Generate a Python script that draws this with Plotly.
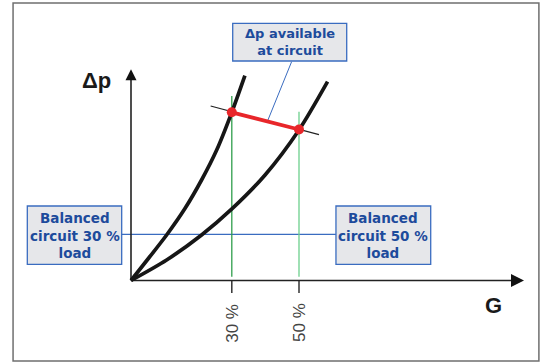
import plotly.graph_objects as go

# ---- data ----
# G in % of design flow, dp in arbitrary pressure units
G_STEEP = [0, 5.4, 10.6, 16.1, 21.0, 25.5, 30.0, 33.9]
DP_STEEP = [0, 11.5, 22.75, 36.1, 50.25, 65.25, 84.1, 102.4]
G_SHALLOW = [0, 10.6, 21.0, 30.1, 39.9, 50.0, 58.5]
DP_SHALLOW = [0, 10.25, 22.75, 35.9, 52.75, 75.25, 99.4]
LOAD_PCT = [30, 50]
DP_AT_LOAD = [84.1, 75.5]
TICK_LABELS = ["30 %", "50 %"]
GREEN_TOP = [92.25, 84.4]
LINE_G = [23.7, 55.95]
LINE_DP = [87.25, 72.9]

# ---- layout constants (pixel mapping) ----
W, H = 544, 363
X0PX, Y0PX = 131.0, 280.5
KX, KY = 3.36, 2.0
XR = [-X0PX / KX, (W - X0PX) / KX]
YR = [(Y0PX - H) / KY, Y0PX / KY]

FONT = "Liberation Sans, Arial, Helvetica, sans-serif"
BOXFONT = "DejaVu Sans, Liberation Sans, Arial, sans-serif"
BLUE_TXT = "#1d4b9c"
BLUE_LN = "#3a6cc0"
BOX_BG = "#e6e7ea"

fig = go.Figure()

# connector between the two lower boxes
fig.add_trace(go.Scatter(x=[-2.77, 61.0], y=[23.1, 23.1], mode="lines",
                         line=dict(color=BLUE_LN, width=1.2), hoverinfo="skip"))
# green load lines
for g, top, col in zip(LOAD_PCT, GREEN_TOP, ["#2f9e4c", "#6ccf8d"]):
    fig.add_trace(go.Scatter(x=[g, g], y=[1.9, top], mode="lines",
                             line=dict(color=col, width=1.3), hoverinfo="skip"))
# tick marks
for g in LOAD_PCT:
    fig.add_trace(go.Scatter(x=[g, g], y=[0, -6.25], mode="lines",
                             line=dict(color="#333333", width=1.5), hoverinfo="skip"))
# axes
fig.add_trace(go.Scatter(x=[0, 0], y=[0, 102.5], mode="lines",
                         line=dict(color="#222222", width=1.6), hoverinfo="skip"))
fig.add_trace(go.Scatter(x=[0, 115.0], y=[0, 0], mode="lines",
                         line=dict(color="#222222", width=1.6), hoverinfo="skip"))
fig.add_trace(go.Scatter(x=[0], y=[105.6], mode="markers",
                         marker=dict(symbol="arrow-up", size=11, color="#111111",
                                     line=dict(width=0)), hoverinfo="skip"))
fig.add_trace(go.Scatter(x=[116.96], y=[0], mode="markers",
                         marker=dict(symbol="arrow-right", size=13, color="#111111",
                                     line=dict(width=0)), hoverinfo="skip"))
# curves
for gx, dy in [(G_STEEP, DP_STEEP), (G_SHALLOW, DP_SHALLOW)]:
    fig.add_trace(go.Scatter(x=gx, y=dy, mode="lines",
                             line=dict(color="#161616", width=3.7, shape="spline", smoothing=0.8),
                             hoverinfo="skip"))
# thin operating line
fig.add_trace(go.Scatter(x=LINE_G, y=LINE_DP, mode="lines",
                         line=dict(color="#222222", width=1.2), hoverinfo="skip"))
# annotation connector
fig.add_trace(go.Scatter(x=[47.8, 40.7], y=[109.4, 80.0], mode="lines",
                         line=dict(color=BLUE_LN, width=1.0), hoverinfo="skip"))
# red available dp
fig.add_trace(go.Scatter(x=LOAD_PCT, y=DP_AT_LOAD, mode="lines+markers",
                         line=dict(color="#e8262a", width=3.8),
                         marker=dict(size=10, color="#e8262a"), hoverinfo="skip"))

shapes = []
# frame
shapes.append(dict(type="rect", xref="x", yref="y", x0=-35.1, x1=121.4, y0=-40.25, y1=138.75,
                   line=dict(color="#6f6f6f", width=1.5), layer="above"))
# boxes
for x0, x1, y0, y1 in [(-30.86, -2.77, 8.1, 37.25), (61.0, 89.2, 8.1, 37.25),
                       (30.27, 64.2, 109.75, 128.6)]:
    shapes.append(dict(type="rect", xref="x", yref="y", x0=x0, x1=x1, y0=y0, y1=y1,
                       fillcolor=BOX_BG, line=dict(color=BLUE_LN, width=1.3), layer="above"))

ann = []
def txt(x, y, s, size=15, color=BLUE_TXT, bold=True, angle=0, family=FONT):
    ann.append(dict(x=x, y=y, xref="x", yref="y", text=f"<b>{s}</b>" if bold else s,
                    showarrow=False, textangle=angle,
                    font=dict(family=family, size=size, color=color),
                    xanchor="center", yanchor="middle"))

# box texts
for cx, pct in [(-16.8, "30"), (75.1, "50")]:
    txt(cx, 22.7, f"Balanced<br>circuit {pct} %<br>load", size=13.5, family=BOXFONT)
txt(47.2, 119.2, "Δp available<br>at circuit", size=13, family=BOXFONT)

# axis labels
txt(-10.2, 100.25, "Δp", size=22, color="#1a1a1a")
txt(108.0, -12.5, "G", size=22, color="#1a1a1a")
for g, lab in zip(LOAD_PCT, TICK_LABELS):
    txt(g, -21.25, lab, size=17, color="#444444", bold=False, angle=-90)

fig.update_layout(
    width=W, height=H, margin=dict(l=0, r=0, t=0, b=0),
    paper_bgcolor="white", plot_bgcolor="white", showlegend=False,
    xaxis=dict(range=XR, visible=False, fixedrange=True),
    yaxis=dict(range=YR, visible=False, fixedrange=True),
    shapes=shapes, annotations=ann,
)

fig.write_html("out.html", config={"displayModeBar": False, "staticPlot": True},
               post_script="document.body.style.margin='0';")
